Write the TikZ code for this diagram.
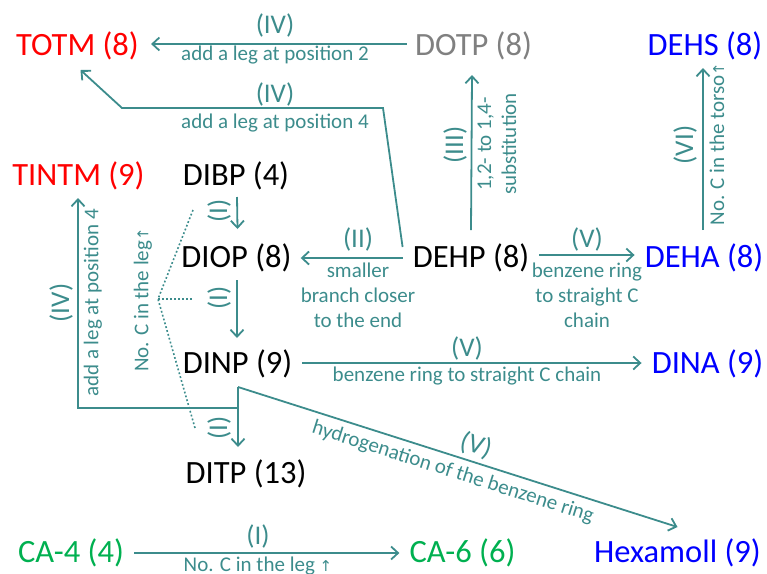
\documentclass[tikz,border=0pt]{standalone}
\usepackage{fontspec}
\setmainfont{Carlito}
\newfontfamily\djv{DejaVu Sans}
\usetikzlibrary{arrows.meta}
\definecolor{tl}{RGB}{60,140,140}
\definecolor{cgreen}{RGB}{0,176,80}
\newcommand{\upar}{{\djv\fontsize{15}{18}\selectfont ↑}}
\begin{document}
\begin{tikzpicture}[x=1pt,y=-1pt,
  mol/.style={font=\fontsize{32.5}{36}\selectfont, inner sep=0pt},
  lab/.style={font=\fontsize{21}{25}\selectfont, text=tl, inner sep=0pt, align=center},
  rom/.style={font=\fontsize{27}{30}\selectfont, text=tl, inner sep=0pt},
  arr/.style={draw=tl, line width=1.8pt, -{Straight Barb[length=7pt,width=13pt]}},
  dotln/.style={draw=tl, line width=1.6pt, dash pattern=on 1.8pt off 2.2pt}]
\useasboundingbox (0,0) rectangle (767,573);

% molecules
\node[mol,red]    (totm)  at (77.5,46)  {TOTM (8)};
\node[mol,gray]   (dotp)  at (473.5,46) {DOTP (8)};
\node[mol,blue]   (dehs)  at (705,46)   {DEHS (8)};
\node[mol,red]    (tintm) at (78.5,176) {TINTM (9)};
\node[mol]        (dibp)  at (236,176)  {DIBP (4)};
\node[mol]        (diop)  at (236.5,258) {DIOP (8)};
\node[mol]        (dehp)  at (471,258)  {DEHP (8)};
\node[mol,blue]   (deha)  at (704,258)  {DEHA (8)};
\node[mol]        (dinp)  at (237.5,364) {DINP (9)};
\node[mol,blue]   (dina)  at (707.5,364) {DINA (9)};
\node[mol]        (ditp)  at (246,474)  {DITP (13)};
\node[mol,cgreen] (ca4)   at (71,553)   {CA-4 (4)};
\node[mol,cgreen] (ca6)   at (462.5,553) {CA-6 (6)};
\node[mol,blue]   (hex)   at (677.5,553) {Hexamoll (9)};

% helper coordinates
\coordinate (b1) at (383,108);
\coordinate (b2) at (122,108);
\coordinate (j)  at (238,387);
\coordinate (k)  at (238,408);
\coordinate (kk) at (78,408);
\coordinate (dt) at ([yshift=27pt]ditp.center);
\coordinate (fan) at (158,299);
\coordinate (f1) at (193,210);
\coordinate (f2) at (193,299);
\coordinate (f3) at (195,428);

% DOTP -> TOTM
\draw[arr] ([xshift=-8pt,yshift=2pt]dotp.west) -- ([xshift=12pt,yshift=2pt]totm.east);
\node[rom] (l1a) at (275,25) {(IV)};
\node[lab] (l1b) at (275,55) {add a leg at position 2};

% DEHP -> TOTM
\draw[arr] ([xshift=-10pt,yshift=11pt]dehp.west) -- (b1) -- (b2) -- ([xshift=3pt,yshift=-24pt]totm.center);
\node[rom] (l2a) at (275,94) {(IV)};
\node[lab] (l2b) at (275,123) {add a leg at position 4};

% DEHP -> DOTP
\draw[arr] ([yshift=28pt]dehp.center) -- ([xshift=-1.5pt,yshift=-29pt]dotp.center);
\node[rom,rotate=90] (l3a) at (455,145) {(III)};
\node[lab,rotate=90] (l3b) at (497,144) {1,2- to 1,4-\\substitution};

% DEHA -> DEHS
\draw[arr] ([xshift=-1pt,yshift=28pt]deha.center) -- ([xshift=-2pt,yshift=-22pt]dehs.center);
\node[rom,rotate=90] (l4a) at (685,145) {(VI)};
\node[lab,rotate=90] (l4b) at (717,144) {No. C in the torso\upar};

% DEHP -> DIOP
\draw[arr] ([xshift=-10pt]dehp.west) -- ([xshift=9pt]diop.east);
\node[rom] (l5a) at (358,239) {(II)};
\node[lab] (l5b) at (358,295) {smaller\\branch closer\\to the end};

% DEHP -> DEHA
\draw[arr] ([xshift=10pt,yshift=3pt]dehp.east) -- ([xshift=-10pt,yshift=3pt]deha.west);
\node[rom] (l6a) at (587,239) {(V)};
\node[lab] (l6b) at (587,295) {benzene ring\\to straight C\\chain};

% DINP -> DINA
\draw[arr] ([xshift=10pt,yshift=1pt]dinp.east) -- ([xshift=-10pt,yshift=1pt]dina.west);
\node[rom] (l7a) at (467,348) {(V)};
\node[lab] (l7b) at (467,376) {benzene ring to straight C chain};

% I-series
\draw[arr] ([xshift=1pt,yshift=-21pt]dibp.center) -- ([xshift=1pt,yshift=29pt]diop.center);
\draw[arr] ([xshift=0.5pt,yshift=-22pt]diop.center) -- ([xshift=-0.5pt,yshift=26pt]dinp.center);
\draw[arr] (j) -- (dt -| j);
\node[rom,rotate=90] (i1) at (219,211) {(I)};
\node[rom,rotate=90] (i2) at (219,298) {(I)};
\node[rom,rotate=90] (i3) at (219,428) {(I)};

% fan
\draw[dotln] (f1) -- (fan) -- (f3);
\draw[dotln] (fan) -- (f2);
\node[lab,rotate=90] (l8) at (143,300) {No. C in the leg\upar};

% DINP -> TINTM
\draw[arr] (k) -- (kk) -- ([xshift=-0.5pt,yshift=-22pt]tintm.center);
\node[rom,rotate=90] (l9a) at (61,303) {(IV)};
\node[lab,rotate=90] (l9b) at (93,303) {add a leg at position 4};

% DINP -> Hexamoll
\draw[arr] (j) -- node[rom,sloped,pos=0.53,above=4pt] {(V)}
  node[lab,sloped,pos=0.5,below=6pt] {hydrogenation of the benzene ring}
  ([xshift=0pt,yshift=26pt]hex.center);

% CA-4 -> CA-6
\draw[arr] ([xshift=10pt]ca4.east) -- ([xshift=-10pt]ca6.west);
\node[rom] (l10a) at (258,536) {(I)};
\node[lab] (l10b) at (258,566) {No. C in the leg \upar};
\end{tikzpicture}
\end{document}
